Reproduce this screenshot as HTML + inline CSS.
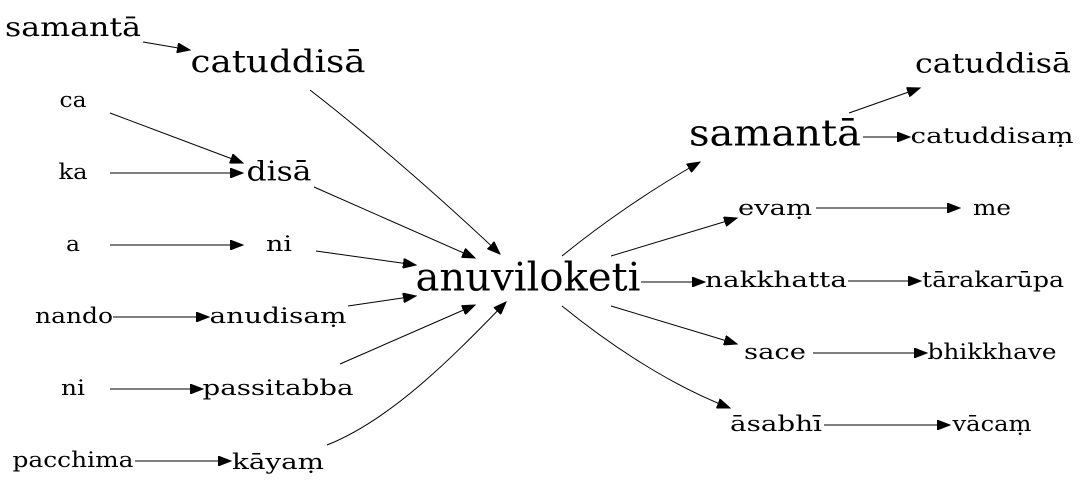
<!DOCTYPE html>
<html><head><meta charset="utf-8"><style>
html,body{margin:0;padding:0;background:#fff;}
svg{display:block;}
text{font-family:"DejaVu Serif","Liberation Serif",serif;fill:#000;text-anchor:middle;dominant-baseline:central;}
path,line{stroke:#000;stroke-width:1;fill:none;}
</style></head><body>
<svg width="1081" height="491" viewBox="0 0 1081 491" xmlns="http://www.w3.org/2000/svg">
<defs><marker id="a" markerUnits="userSpaceOnUse" markerWidth="14" markerHeight="10" refX="13" refY="5" orient="auto"><path d="M0,0 L13,5 L0,10 Z" style="fill:#000;stroke:#000"/></marker></defs>
<g font-size="21" lengthAdjust="spacingAndGlyphs">
<text x="73" y="28" font-size="26" textLength="136" lengthAdjust="spacingAndGlyphs">samantā</text>
<text x="278" y="62" font-size="31" textLength="175" lengthAdjust="spacingAndGlyphs">catuddisā</text>
<text x="73" y="100" textLength="27" lengthAdjust="spacingAndGlyphs">ca</text>
<text x="73" y="172" textLength="29" lengthAdjust="spacingAndGlyphs">ka</text>
<text x="279" y="172" font-size="27" textLength="65" lengthAdjust="spacingAndGlyphs">disā</text>
<text x="73" y="244" textLength="14" lengthAdjust="spacingAndGlyphs">a</text>
<text x="279" y="244" textLength="26" lengthAdjust="spacingAndGlyphs">ni</text>
<text x="74" y="316" textLength="78" lengthAdjust="spacingAndGlyphs">nando</text>
<text x="278" y="316" textLength="137" lengthAdjust="spacingAndGlyphs">anudisaṃ</text>
<text x="73" y="388" textLength="24" lengthAdjust="spacingAndGlyphs">ni</text>
<text x="278" y="388" textLength="151" lengthAdjust="spacingAndGlyphs">passitabba</text>
<text x="73" y="460" textLength="121" lengthAdjust="spacingAndGlyphs">pacchima</text>
<text x="278" y="462" textLength="92" lengthAdjust="spacingAndGlyphs">kāyaṃ</text>
<text x="528" y="278" font-size="39" textLength="225" lengthAdjust="spacingAndGlyphs">anuviloketi</text>
<text x="775" y="134" font-size="36" textLength="172" lengthAdjust="spacingAndGlyphs">samantā</text>
<text x="993" y="64" font-size="27" textLength="156" lengthAdjust="spacingAndGlyphs">catuddisā</text>
<text x="992" y="136" textLength="163" lengthAdjust="spacingAndGlyphs">catuddisaṃ</text>
<text x="775" y="208" textLength="74" lengthAdjust="spacingAndGlyphs">evaṃ</text>
<text x="992" y="208" textLength="38" lengthAdjust="spacingAndGlyphs">me</text>
<text x="776" y="280" textLength="142" lengthAdjust="spacingAndGlyphs">nakkhatta</text>
<text x="993" y="280" textLength="142" lengthAdjust="spacingAndGlyphs">tārakarūpa</text>
<text x="775" y="352" textLength="62" lengthAdjust="spacingAndGlyphs">sace</text>
<text x="992" y="352" textLength="129" lengthAdjust="spacingAndGlyphs">bhikkhave</text>
<text x="776" y="424" textLength="92" lengthAdjust="spacingAndGlyphs">āsabhī</text>
<text x="992" y="424" textLength="79" lengthAdjust="spacingAndGlyphs">vācaṃ</text>
</g>
<g marker-end="url(#a)">
<path d="M143,42 L190,50"/>
<path d="M110,113 L243,163"/>
<path d="M110,173 L243,173"/>
<path d="M110,245 L243,245"/>
<path d="M113,317 L209,317"/>
<path d="M110,389 L203,389"/>
<path d="M135,461 L231,461"/>
<path d="M310,90 Q400,160 500,254"/>
<path d="M314,187 L475,258"/>
<path d="M316,251 L416,265"/>
<path d="M348,306 L416,296"/>
<path d="M340,364 L475,305"/>
<path d="M327,445 C390,420 450,360 506,302"/>
<path d="M562,256 C600,225 650,190 700,162"/>
<path d="M611,256 L737,218"/>
<path d="M641,282 L705,282"/>
<path d="M611,306 L737,344"/>
<path d="M562,306 C610,345 670,385 730,408"/>
<path d="M849,113 L920,88"/>
<path d="M863,137 L910,137"/>
<path d="M816,208 L960,208"/>
<path d="M848,281 L921,281"/>
<path d="M813,353 L927,353"/>
<path d="M824,425 L950,425"/>
</g>
</svg>
</body></html>
